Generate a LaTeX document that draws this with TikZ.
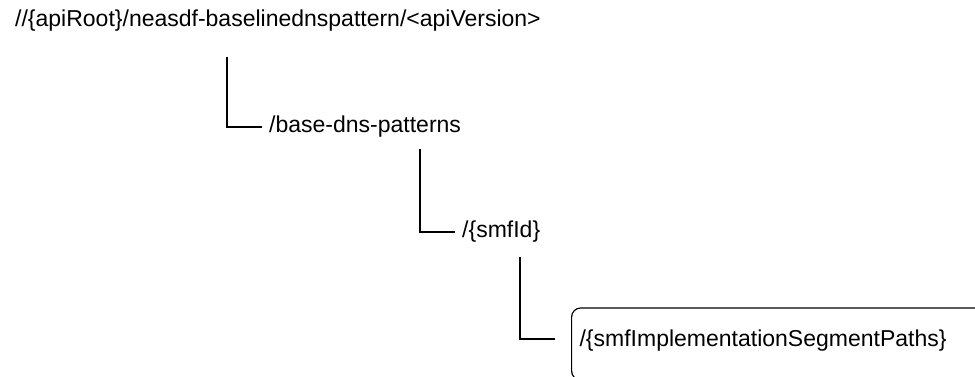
\documentclass[tikz,border=0pt]{standalone}
\usepackage{fontspec}
\setmainfont{Liberation Sans}

\begin{document}
\begin{tikzpicture}[
        x=1pt, y=-1pt,
        resource/.style={anchor=west, inner xsep=7pt, inner ysep=0pt, font=\fontsize{23}{27}\selectfont},
        segbox/.style={draw, line width=1.2pt, rounded corners=9pt, anchor=base west, inner xsep=8pt, inner ysep=0pt,
            text height=38pt, text depth=34pt, text width=420pt, align=left, font=\fontsize{23}{27}\selectfont},
        branch/.style={draw, line width=1.3pt}
    ]
        % Page frame (box runs off the right and bottom edge)
        \clip (0,0) rectangle (975,376);

        % Resource levels
        \node[resource] (root) at (8,21) {//\{apiRoot\}/neasdf-baselinednspattern/<apiVersion>};
        \node[resource] (dnspatterns) at (262,127) {/base-dns-patterns};
        \node[resource] (smfid) at (455,232) {/\{smfId\}};
        \node[segbox] (segpaths) at (571,346) {/\{smfImplementationSegmentPaths\}};

        % Start points of the tree branches
        \coordinate (rootfoot) at (227,57);
        \coordinate (dnsfoot) at (420,149);
        \coordinate (smffoot) at (520,257);

        % Branches
        \draw[branch] (rootfoot) |- (dnspatterns.west);
        \draw[branch] (dnsfoot) |- (smfid.west);
        \draw[branch] (smffoot) |- ([shift={(-16,-5)}]segpaths.west);

    \end{tikzpicture}
\end{document}
